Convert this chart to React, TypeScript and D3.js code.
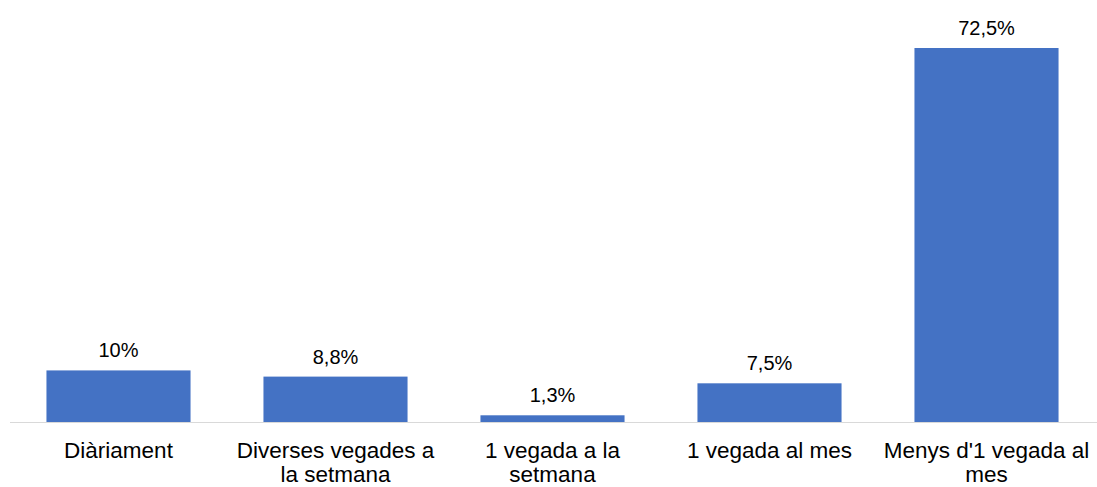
import React from "react";
import * as d3 from "d3";

const categories: string[][] = [
  ["Diàriament"],
  ["Diverses vegades a", "la setmana"],
  ["1 vegada a la", "setmana"],
  ["1 vegada al mes"],
  ["Menys d'1 vegada al", "mes"],
];
const values: number[] = [10, 8.8, 1.3, 7.5, 72.5];
const valueLabels: string[] = ["10%", "8,8%", "1,3%", "7,5%", "72,5%"];

const W = 1097;
const H = 487;
const left = 10;
const right = 1095;
const baseline = 422;
const top = 48;

export default function App() {
  const idx = values.map((_, i) => String(i));
  const x = d3.scaleBand<string>().domain(idx).range([left, right]).paddingInner(0.336).paddingOuter(0.168);
  const y = d3.scaleLinear().domain([0, 72.5]).range([baseline, top]);
  const font = "Arial, 'Liberation Sans', sans-serif";
  return (
    <svg width={W} height={H} style={{ position: "absolute", left: 0, top: 0, background: "#fff" }}>
      <line x1={left} x2={right + 2} y1={baseline + 0.5} y2={baseline + 0.5} stroke="#d9d9d9" strokeWidth={1} />
      {values.map((v, i) => {
        const bx = x(String(i))!;
        const bw = x.bandwidth();
        const cx = bx + bw / 2;
        return (
          <g key={i}>
            <rect x={bx} y={y(v)} width={bw} height={baseline - y(v)} fill="#4472C4" />
            <text x={cx} y={y(v) - 13} textAnchor="middle" fontFamily={font} fontSize={20} fill="#000">
              {valueLabels[i]}
            </text>
            {categories[i].map((line, j) => (
              <text
                key={j}
                x={cx}
                y={458 + j * 24}
                textAnchor="middle"
                fontFamily={font}
                fontSize={22.5}
                fill="#000"
              >
                {line}
              </text>
            ))}
          </g>
        );
      })}
    </svg>
  );
}
